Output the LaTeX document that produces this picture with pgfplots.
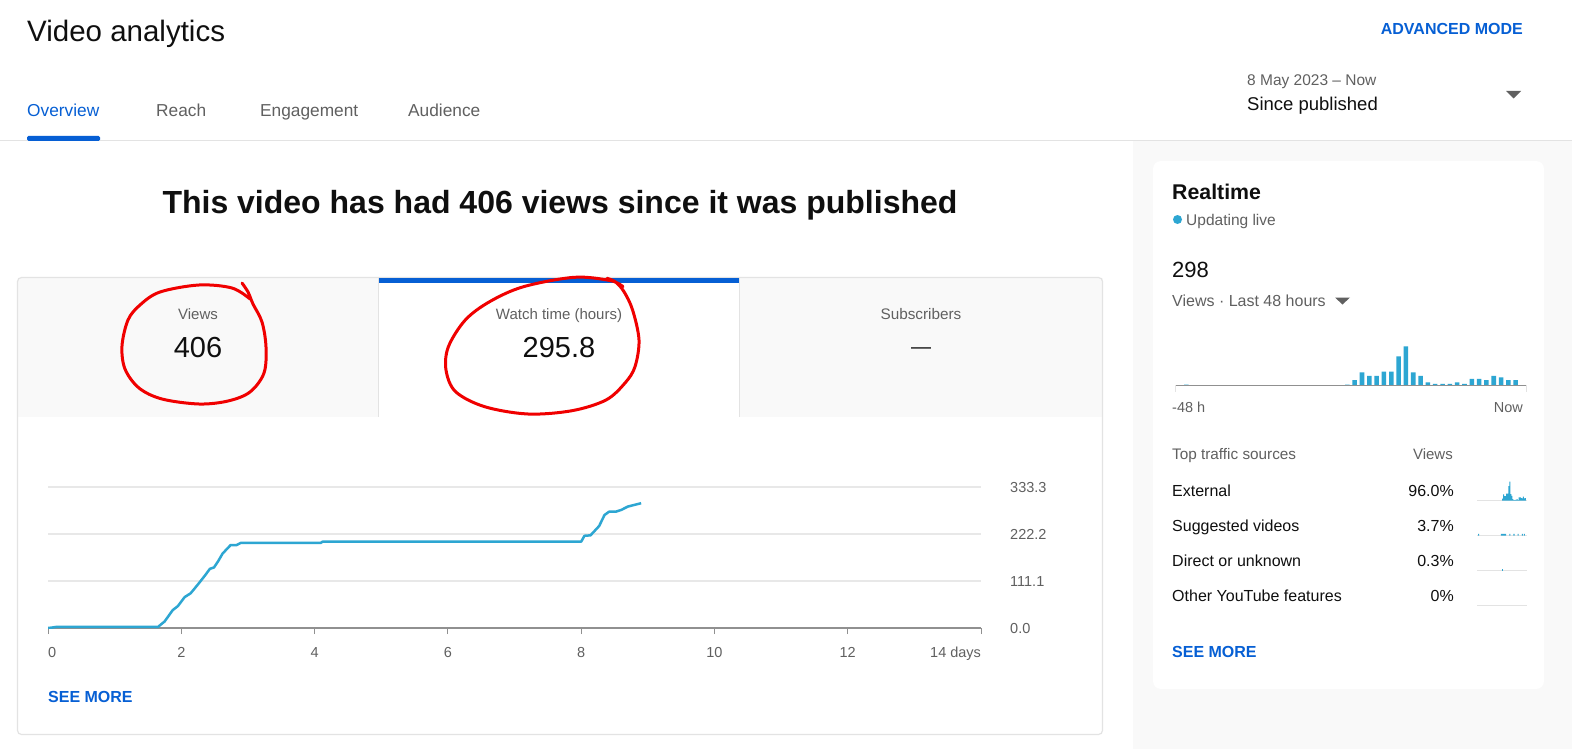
\documentclass[border=0pt]{standalone}
\usepackage{pgfplots}
\pgfplotsset{compat=1.18}
\usepackage{pgfplotstable}
\usepackage{fontspec}
\setmainfont{Liberation Sans}
\definecolor{ytblue}{HTML}{065FD4}
\definecolor{linec}{HTML}{2DA6D2}
\definecolor{txtgrey}{HTML}{606060}
\definecolor{txtdark}{HTML}{0F0F0F}
\definecolor{bordergrey}{HTML}{E3E3E3}
\definecolor{panelgrey}{HTML}{F9F9F9}
\definecolor{axisgrey}{HTML}{909090}
\definecolor{gridgrey}{HTML}{E8E8E8}
\definecolor{penred}{HTML}{F00000}
\newcommand\fs[1]{\fontsize{#1pt}{#1pt}\selectfont}

% cumulative watch time (hours) vs days since publishing
\pgfplotstableread{
day hours
0.00 0
0.05 0.8
0.12 2.5
1.65 2.5
1.75 15.5
1.87 42
1.95 52
2.05 73
2.14 82
2.25 103
2.35 123
2.43 140
2.49 143
2.55 157
2.62 176
2.74 196
2.83 196
2.89 201
4.09 201
4.12 204
8.00 204
8.05 218
8.14 219
8.27 241
8.35 267
8.42 275
8.52 275
8.60 279
8.70 287
8.80 291
8.90 295
}\watchtime

% realtime views per hour, last 48 hours (x = hour slot centre)
\pgfplotstableread{
slot views
1.5 1
23.5 1
24.5 7
25.5 18
26.5 13
27.5 13
28.5 19
29.5 19
30.5 40
31.5 54
32.5 18
33.5 13
34.5 4
35.5 2
36.5 2
37.5 2
38.5 4
39.5 2
40.5 9
41.5 9
42.5 7
43.5 13
44.5 11
45.5 7
46.5 7
}\realtime

\pgfplotstableread{
slot views
24.5 5
25.5 17
26.5 12
27.5 12
28.5 19
29.5 19
30.5 40
31.5 53
32.5 18
33.5 13
34.5 4
35.5 1
36.5 2
37.5 2
38.5 4
39.5 1
40.5 9
41.5 9
42.5 7
43.5 6
44.5 11
45.5 6
46.5 7
}\external

\pgfplotstableread{
slot views
1.5 1
23.5 1
24.5 1
25.5 1
26.5 1
27.5 1
31.5 1
35.5 1
39.5 1
43.5 1
45.5 1
}\suggested

\pgfplotstableread{
slot views
24.5 1
}\direct

\pgfplotsset{spark/.style={anchor=south west, scale only axis, width=50pt, height=20pt,
  xmin=0, xmax=48, ymin=0, hide axis, ybar, bar width=1}}

\begin{document}
\begin{tikzpicture}
\path[use as bounding box, fill=white] (0,0) rectangle (1572pt,-749pt);
\begin{scope}[x=1pt,y=-1pt]
% panels
\fill[panelgrey] (1133,141) rectangle (1572,749);
\draw[bordergrey, line width=1.2pt] (0,140.5) -- (1572,140.5);
\fill[white, rounded corners=8pt] (1153,161) rectangle (1544,689);
% header
\node[anchor=base west, inner sep=0, text=txtdark, font=\fs{29.5}] at (27,42) {Video analytics};
\node[anchor=base west, inner sep=0, text=ytblue, font=\fs{17.3}] at (27,116.5) {Overview};
\node[anchor=base west, inner sep=0, text=txtgrey, font=\fs{17.3}] at (156,116.5) {Reach};
\node[anchor=base west, inner sep=0, text=txtgrey, font=\fs{17.3}] at (260,116.5) {Engagement};
\node[anchor=base west, inner sep=0, text=txtgrey, font=\fs{17.3}] at (408,116.5) {Audience};
\fill[ytblue, rounded corners=1.5pt] (27,136) rectangle (100,141);
\node[anchor=base east, inner sep=0, text=ytblue, font=\bfseries\fs{16}] at (1523,35) {ADVANCED MODE};
\node[anchor=base west, inner sep=0, text=txtgrey, font=\fs{15.5}] at (1247,85.5) {8 May 2023 – Now};
\node[anchor=base west, inner sep=0, text=txtdark, font=\fs{18.5}] at (1247,111) {Since published};
\fill[txtgrey] (1506,91) -- (1521,91) -- (1513.5,98.5) -- cycle;
% headline
\node[anchor=base, inner sep=0, text=txtdark, font=\bfseries\fs{32}] at (560,213) {This video has had 406 views since it was published};
% metric card
\fill[panelgrey] (17.5,277.5) rectangle (378.5,416.5);
\fill[panelgrey] (739.5,277.5) rectangle (1102.5,416.5);
\draw[bordergrey, line width=1pt] (378.5,277.5) -- (378.5,416.5);
\draw[bordergrey, line width=1pt] (739.5,277.5) -- (739.5,416.5);
\draw[bordergrey, line width=1.2pt, rounded corners=4pt] (17.5,277.5) rectangle (1102.5,734.5);
\fill[ytblue] (379,278) rectangle (739,282.5);
\node[anchor=base, inner sep=0, text=txtgrey, font=\fs{15}] at (198,319.3) {Views};
\node[anchor=base, inner sep=0, text=txtdark, font=\fs{29}] at (198,357.3) {406};
\node[anchor=base, inner sep=0, text=txtgrey, font=\fs{15}] at (559,319.3) {Watch time (hours)};
\node[anchor=base, inner sep=0, text=txtdark, font=\fs{29}] at (559,357.5) {295.8};
\node[anchor=base, inner sep=0, text=txtgrey, font=\fs{15.3}] at (921,319.3) {Subscribers};
\node[anchor=base, inner sep=0, text=txtdark, font=\fs{20}] at (921,353) {—};
\node[anchor=base west, inner sep=0, text=ytblue, font=\bfseries\fs{16}] at (48,702) {SEE MORE};
% realtime card
\node[anchor=base west, inner sep=0, text=txtdark, font=\bfseries\fs{21.3}] at (1172,200) {Realtime};
\fill[linec] (1177.5,219.5) circle (4.5);
\node[anchor=base west, inner sep=0, text=txtgrey, font=\fs{15.5}] at (1186,225.5) {Updating live};
\node[anchor=base west, inner sep=0, text=txtdark, font=\fs{22}] at (1172,277.3) {298};
\node[anchor=base west, inner sep=0, text=txtgrey, font=\fs{16}] at (1172,306) {Views · Last 48 hours};
\fill[txtgrey] (1335,297.5) -- (1350,297.5) -- (1342.5,304.5) -- cycle;
\node[anchor=base west, inner sep=0, text=txtgrey, font=\fs{14.5}] at (1172,412.5) {-48 h};
\node[anchor=base east, inner sep=0, text=txtgrey, font=\fs{14.5}] at (1523,412.5) {Now};
\node[anchor=base west, inner sep=0, text=txtgrey, font=\fs{15.3}] at (1172,459) {Top traffic sources};
\node[anchor=base east, inner sep=0, text=txtgrey, font=\fs{15}] at (1453,459) {Views};
\node[anchor=base west, inner sep=0, text=txtdark, font=\fs{16}] at (1172,496.5) {External};
\node[anchor=base east, inner sep=0, text=txtdark, font=\fs{16}] at (1454,496.5) {96.0\%};
\node[anchor=base west, inner sep=0, text=txtdark, font=\fs{16}] at (1172,531.5) {Suggested videos};
\node[anchor=base east, inner sep=0, text=txtdark, font=\fs{16}] at (1454,531.5) {3.7\%};
\node[anchor=base west, inner sep=0, text=txtdark, font=\fs{16}] at (1172,566.5) {Direct or unknown};
\node[anchor=base east, inner sep=0, text=txtdark, font=\fs{16}] at (1454,566.5) {0.3\%};
\node[anchor=base west, inner sep=0, text=txtdark, font=\fs{16}] at (1172,601.5) {Other YouTube features};
\node[anchor=base east, inner sep=0, text=txtdark, font=\fs{16}] at (1454,601.5) {0\%};
\foreach \yy in {500.5,535.5,570.5,605.5} {\draw[bordergrey, line width=1.2pt] (1477,\yy) -- (1527,\yy);}
\node[anchor=base west, inner sep=0, text=ytblue, font=\bfseries\fs{16}] at (1172,657) {SEE MORE};
\end{scope}

% main watch-time chart
\begin{axis}[
  at={(48pt,-628pt)}, anchor=south west,
  scale only axis, width=933pt, height=141pt,
  xmin=0, xmax=14, ymin=0, ymax=333.3,
  axis x line=bottom, axis y line=right,
  x axis line style={-, draw=axisgrey, line width=2pt},
  y axis line style={draw=none},
  xtick={0,2,4,6,8,10,12,14},
  xticklabels={\rlap{0},2,4,6,8,10,12,\llap{14 days}},
  ytick={0,111.1,222.2,333.3},
  yticklabels={0.0,111.1,222.2,333.3},
  ymajorgrids, grid style={gridgrey, line width=1.2pt},
  xtick style={axisgrey, line width=1pt},
  ytick style={draw=none},
  tick align=outside, major tick length=6pt,
  xticklabel style={font=\fs{14.5}, text=txtgrey, anchor=base, inner sep=0pt, yshift=-23.5pt},
  yticklabel style={font=\fs{14.5}, text=txtgrey, anchor=base west, inner sep=0pt, xshift=23pt, yshift=-5pt},
]
\addplot[linec, line width=2.5pt, line join=round] table[x=day,y=hours]{\watchtime};
\end{axis}

% realtime bars
\begin{axis}[at={(1175.3pt,-385.3pt)}, anchor=south west, scale only axis,
  width=351.4pt, height=50pt, xmin=0, xmax=48, ymin=0, ymax=69.2,
  hide axis, ybar, bar width=0.62]
\addplot[fill=linec, draw=none] table[x=slot,y=views]{\realtime};
\end{axis}

% traffic source sparklines
\begin{axis}[spark, at={(1477pt,-500.5pt)}, ymax=56]
\addplot[fill=linec, draw=none] table[x=slot,y=views]{\external};
\end{axis}
\begin{axis}[spark, at={(1477pt,-535.5pt)}, ymax=13]
\addplot[fill=linec, draw=none] table[x=slot,y=views]{\suggested};
\end{axis}
\begin{axis}[spark, at={(1477pt,-570.5pt)}, ymax=13]
\addplot[fill=linec, draw=none] table[x=slot,y=views]{\direct};
\end{axis}

\begin{scope}[x=1pt,y=-1pt]
\draw[axisgrey, line width=1.6pt] (1175.3,385.3) -- (1526.7,385.3);
\draw[bordergrey, line width=1pt] (1175.8,385.3) -- (1175.8,392) (1526.2,385.3) -- (1526.2,392);
% red hand-drawn circles
\draw[penred, line width=3pt, line cap=round, line join=round] plot[smooth, tension=0.55] coordinates {
 (242,283) (248,292) (253,304) (262,322) (266,347) (264,373) (250,392) (228,401)
 (199,404) (162,399) (139,388) (125,369) (122,346) (128,320) (140,305) (160,292)
 (199,285) (232,288) (250,299)};
\draw[penred, line width=3pt, line cap=round, line join=round] plot[smooth, tension=0.55] coordinates {
 (607,278.3) (615.6,282) (624,291.7) (632.6,310) (639,340) (635,366.7) (625,383)
 (606,400) (572,410.7) (528,414) (484.7,406.7) (455.6,391.7) (446,370) (448.4,346.7)
 (465.3,320) (489.6,301.7) (523.5,286.7) (574.4,277.3) (610.8,280.7) (623,286.7)};
\end{scope}
\end{tikzpicture}
\end{document}
